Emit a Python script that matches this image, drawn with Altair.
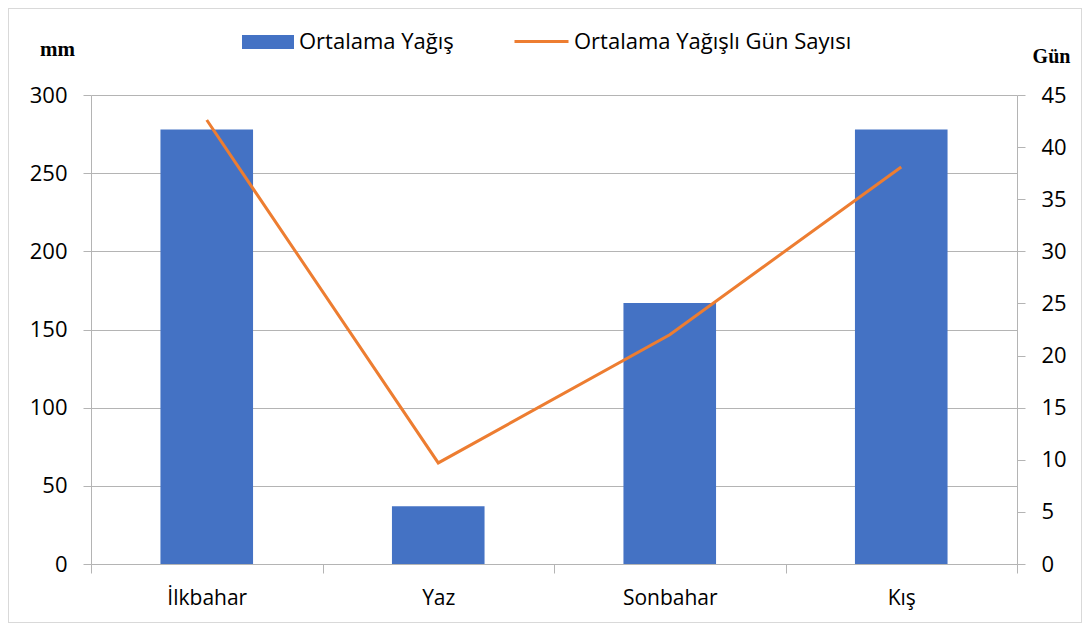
import altair as alt
import pandas as pd

seasons = ["İlkbahar", "Yaz", "Sonbahar", "Kış"]
rain_mm = [278, 37, 167, 278]
rain_days = [42.6, 9.7, 22.0, 38.1]
bar_name = "Ortalama Yağış"
line_name = "Ortalama Yağışlı Gün Sayısı"

df = pd.DataFrame({
    "season": seasons,
    "mm": rain_mm,
    "days": rain_days,
    "bar_series": [bar_name] * 4,
    "line_series": [line_name] * 4,
})

FONT = "Open Sans"
GRID = "#b4b4b4"

x_enc = alt.X(
    "season:N",
    sort=seasons,
    title=None,
    scale=alt.Scale(paddingInner=0, paddingOuter=0),
    axis=alt.Axis(
        labelAngle=0, labelFont=FONT, labelFontSize=21, labelColor="#000000",
        labelPadding=14, tickSize=9, tickBand="extent", tickColor=GRID,
        domainColor=GRID, grid=False,
    ),
)

bars = alt.Chart(df).mark_bar(width=alt.RelativeBandSize(0.4)).encode(
    x=x_enc,
    y=alt.Y(
        "mm:Q",
        scale=alt.Scale(domain=[0, 300], nice=False),
        axis=alt.Axis(
            orient="left", values=[0, 50, 100, 150, 200, 250, 300],
            labelFont=FONT, labelFontSize=22, labelColor="#000000",
            labelPadding=16, tickSize=8, tickColor=GRID, domainColor=GRID,
            gridColor=GRID, grid=True,
            title="mm", titleAngle=0, titleFont="Liberation Serif",
            titleFontWeight="bold", titleFontSize=21, titleColor="#000000",
            titleX=-34, titleY=-46, titleAlign="center", titleBaseline="middle",
        ),
    ),
    color=alt.Color(
        "bar_series:N", title=None,
        scale=alt.Scale(domain=[bar_name], range=["#4472C4"]),
        legend=alt.Legend(
            orient="none", legendX=151, legendY=-79,
            symbolType="M-1,-0.27L1,-0.27L1,0.27L-1,0.27Z", symbolSize=2704,
            symbolStrokeWidth=0, symbolOpacity=1, labelLimit=400,
            labelFont=FONT, labelFontSize=22, labelColor="#000000", labelOffset=5,
        ),
    ),
)

line = alt.Chart(df).mark_line(strokeWidth=3).encode(
    x=alt.X("season:N", sort=seasons),
    y=alt.Y(
        "days:Q",
        scale=alt.Scale(domain=[0, 45], nice=False),
        axis=alt.Axis(
            orient="right", values=[0, 5, 10, 15, 20, 25, 30, 35, 40, 45],
            labelFont=FONT, labelFontSize=22, labelColor="#000000",
            labelPadding=16, tickSize=8, tickColor=GRID, domainColor=GRID,
            grid=False,
            title="Gün", titleAngle=0, titleFont="Liberation Serif",
            titleFontWeight="bold", titleFontSize=20, titleColor="#000000",
            titleX=34, titleY=-39, titleAlign="center", titleBaseline="middle",
        ),
    ),
    stroke=alt.Stroke(
        "line_series:N", title=None,
        scale=alt.Scale(domain=[line_name], range=["#ED7D31"]),
        legend=alt.Legend(
            orient="none", legendX=422, legendY=-82,
            symbolType="stroke", symbolSize=2916, symbolStrokeWidth=3,
            labelLimit=400,
            labelFont=FONT, labelFontSize=22, labelColor="#000000", labelOffset=4,
        ),
    ),
)

frame = alt.Chart(df).mark_rect(fill=None, stroke="#d9d9d9", strokeWidth=1).encode(
    x=alt.value(-82.5), x2=alt.value(990.5), y=alt.value(-86.5), y2=alt.value(527.5)
)

chart = alt.layer(frame, bars, line).resolve_scale(
    y="independent", color="independent", stroke="independent"
).properties(
    width=926, height=469,
    padding={"left": 83, "top": 87, "right": 65, "bottom": 59},
    autosize=alt.AutoSizeParams(type="none"),
).configure_view(stroke=None)

chart.save("out.html", embed_options={"renderer": "svg", "actions": False})
